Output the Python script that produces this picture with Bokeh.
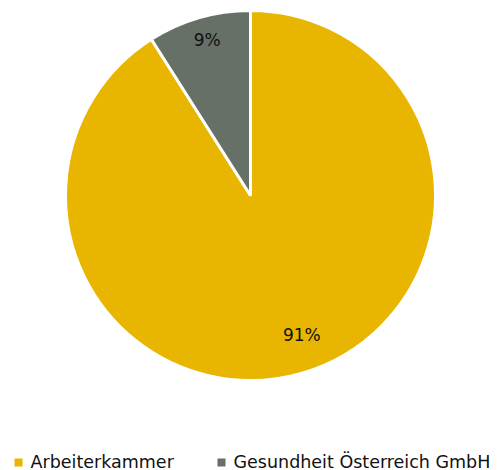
import math
from bokeh.plotting import figure
from bokeh.models import Range1d, ColumnDataSource
from bokeh.core.properties import value
from bokeh.embed import file_html
from bokeh.resources import INLINE

categories = ["Arbeiterkammer", "Gesundheit Österreich GmbH"]
shares = [91, 9]
colors = ["#E8B500", "#667067"]
labels = ["91%", "9%"]

W, H = 499, 470
p = figure(width=W, height=H, x_range=Range1d(0, W), y_range=Range1d(0, H),
           output_backend="svg", toolbar_location=None, min_border=0)
p.axis.visible = False
p.grid.visible = False
p.outline_line_color = None
p.background_fill_color = "white"

cx, cy, R = 250, H - 195, 185
total = sum(shares)
angs = [s / total * 2 * math.pi for s in shares]
g = angs[1]
starts = [math.pi / 2 + g, math.pi / 2]
ends = [math.pi / 2 + 2 * math.pi, math.pi / 2 + g]
mids = [(a + b) / 2 for a, b in zip(starts, ends)]

src = ColumnDataSource(dict(start=starts, end=ends, color=colors))
p.wedge(x=cx, y=cy, radius=R, start_angle="start", end_angle="end",
        fill_color="color", line_color="white", line_width=3, source=src)

lab_r = [0.8 * R, 0.86 * R]
lx = [cx + r * math.cos(m) for r, m in zip(lab_r, mids)]
ly = [cy + r * math.sin(m) for r, m in zip(lab_r, mids)]
p.text(x=lx, y=ly, text=labels, text_align="center", text_baseline="middle",
       x_offset=[10, 1], y_offset=[-3, -3],
       text_font=value("DejaVu Sans"), text_font_size="17px", text_color="#111111")

leg_y = H - 462
mx = [18, 221]
p.scatter(x=mx, y=[leg_y] * 2, marker="square", size=8, fill_color=colors, line_color=None)
p.text(x=[m + 12 for m in mx], y=[leg_y + 1] * 2, text=categories, text_align="left",
       text_baseline="middle", text_font=value("DejaVu Sans"), text_font_size="17.5px",
       text_color="#111111")

open("out.html", "w").write(file_html(p, INLINE))
